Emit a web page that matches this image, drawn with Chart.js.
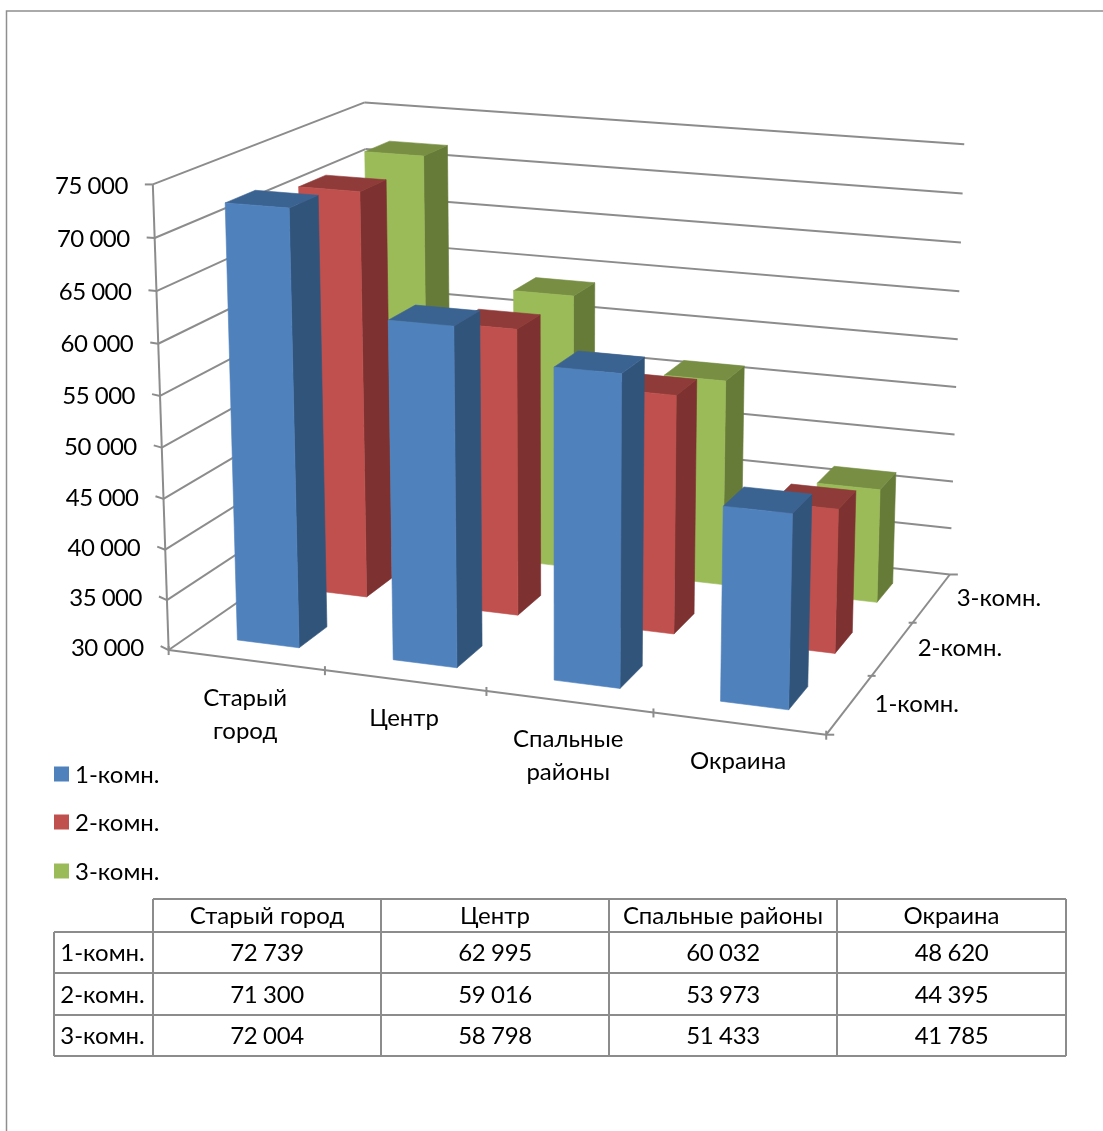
<!DOCTYPE html>
<html lang="ru">
<head>
<meta charset="utf-8">
<title>Цены на квартиры</title>
<script src="https://cdn.jsdelivr.net/npm/chart.js@4/dist/chart.umd.min.js"></script>
<style>
  html, body { margin: 0; padding: 0; background: #fff; }
  canvas { display: block; }
</style>
</head>
<body>
<canvas id="chart" width="1103" height="1131"></canvas>
<script>
// Chart data
const districts = ['Старый город', 'Центр', 'Спальные районы', 'Окраина'];
const districtAxisLines = [['Старый', 'город'], ['Центр'], ['Спальные', 'районы'], ['Окраина']];
const roomTypes = ['1-комн.', '2-комн.', '3-комн.'];
const oneRoom = [72739, 62995, 60032, 48620];
const twoRoom = [71300, 59016, 53973, 44395];
const threeRoom = [72004, 58798, 51433, 41785];
const valueTicks = [30000, 35000, 40000, 45000, 50000, 55000, 60000, 65000, 70000, 75000];
const seriesValues = [oneRoom, twoRoom, threeRoom];

// Face colours of each cuboid
const faceColors = [
  { front: '#4F81BD', side: '#31547B', top: '#3B6391' },
  { front: '#C0504D', side: '#7D3130', top: '#8F3B39' },
  { front: '#9BBB59', side: '#677B38', top: '#778E43' }
];
const LINE = '#8c8c8c';
const FONT = '24px Lato, "Open Sans", sans-serif';
const DEPTH_SHARE = 0.40;   // share of a depth slot taken by a cuboid

// Camera: reference rays of the unit box (u along districts, v into depth, w up) => canvas
const viewAnchors = [
  [0, 0, 0, 169, 652], [1, 0, 0, 826, 733], [1, 1, 0, 948, 575], [0, 1, 0, 373, 515],
  [0, 0, 1, 152, 183], [0, 1, 1, 365, 106], [1, 1, 1, 965, 141], [1, 0, 1, 840, 253],
  [.25, 0, 0, 323, 672], [.5, 0, 0, 484, 693], [.75, 0, 0, 652, 713],
  [1, 1 / 3, 0, 875, 673], [1, 2 / 3, 0, 915, 620],
  [1, 1, 8 / 9, 962, 191], [1, 1, 7 / 9, 961, 240], [1, 1, 6 / 9, 959, 290], [1, 1, 5 / 9, 957, 338],
  [1, 1, 4 / 9, 955, 387], [1, 1, 3 / 9, 954, 435], [1, 1, 2 / 9, 953, 483], [1, 1, 1 / 9, 951, 530],
  [0, 0, 8 / 9, 154, 237], [0, 0, 7 / 9, 156, 290], [0, 0, 6 / 9, 158, 342], [0, 0, 5 / 9, 160, 394],
  [0, 0, 4 / 9, 162, 445], [0, 0, 3 / 9, 164, 497], [0, 0, 2 / 9, 166, 548], [0, 0, 1 / 9, 168, 599]
];

// Least-squares fit of the projective camera
function solveCamera(anchors) {
  const n = 11, A = Array.from({ length: n }, () => new Array(n + 1).fill(0));
  const add = (row, rhs) => {
    for (let i = 0; i < n; i++) {
      for (let j = 0; j < n; j++) A[i][j] += row[i] * row[j];
      A[i][n] += row[i] * rhs;
    }
  };
  anchors.forEach(([u, v, w, x, y]) => {
    add([u, v, w, 1, 0, 0, 0, 0, -x * u, -x * v, -x * w], x);
    add([0, 0, 0, 0, u, v, w, 1, -y * u, -y * v, -y * w], y);
  });
  for (let c = 0; c < n; c++) {
    let p = c;
    for (let r = c + 1; r < n; r++) if (Math.abs(A[r][c]) > Math.abs(A[p][c])) p = r;
    [A[c], A[p]] = [A[p], A[c]];
    for (let r = 0; r < n; r++) {
      if (r === c) continue;
      const f = A[r][c] / A[c][c];
      for (let k = c; k <= n; k++) A[r][k] -= f * A[c][k];
    }
  }
  return A.map((row, i) => row[n] / row[i]);
}
const cam = solveCamera(viewAnchors);
function project(u, v, w) {
  const d = cam[8] * u + cam[9] * v + cam[10] * w + 1;
  return {
    x: (cam[0] * u + cam[1] * v + cam[2] * w + cam[3]) / d,
    y: (cam[4] * u + cam[5] * v + cam[6] * w + cam[7]) / d
  };
}

// Normalised scale positions
const fracX = (s, px) => (px - s.left) / s.width;
const fracY = (s, px) => (s.bottom - px) / s.height;

function segment(ctx, a, b) {
  ctx.beginPath(); ctx.moveTo(a.x, a.y); ctx.lineTo(b.x, b.y); ctx.stroke();
}
function face(ctx, pts, color) {
  ctx.fillStyle = color; ctx.strokeStyle = color; ctx.lineWidth = 0.6; ctx.lineJoin = 'round';
  ctx.beginPath();
  pts.forEach((p, i) => i ? ctx.lineTo(p.x, p.y) : ctx.moveTo(p.x, p.y));
  ctx.closePath(); ctx.fill(); ctx.stroke();
}
const groupThousands = v => String(v).replace(/\B(?=(\d{3})+$)/g, ' ');

// Back wall, side wall, floor edges and tick marks
function drawBox(chart) {
  const { ctx, scales } = chart;
  ctx.save();
  ctx.strokeStyle = LINE; ctx.lineWidth = 2; ctx.lineCap = 'butt';
  scales.y.ticks.forEach(t => {
    const w = fracY(scales.y, scales.y.getPixelForValue(t.value));
    const back = project(0, 1, w);
    const front = project(0, 0, w);
    segment(ctx, front, back);
    segment(ctx, back, project(1, 1, w));
    segment(ctx, front, { x: front.x - 8, y: front.y - 4 * (1 - w) });
  });
  segment(ctx, project(0, 0, 0), project(0, 0, 1));
  segment(ctx, project(0, 0, 0), project(1, 0, 0));
  segment(ctx, project(1, 0, 0), project(1, 1, 0));
  for (let i = 0; i <= districts.length; i++) {
    const p = project(i / districts.length, 0, 0);
    segment(ctx, { x: p.x, y: p.y - 4 }, { x: p.x, y: p.y + 5 });
  }
  for (let i = 0; i <= roomTypes.length; i++) {
    const p = project(1, i / roomTypes.length, 0);
    const outer = i === 0 || i === roomTypes.length;
    segment(ctx, { x: p.x - (outer ? 0 : 4), y: p.y }, { x: p.x + (outer ? 8 : 4), y: p.y });
  }
  ctx.restore();
}

// One cuboid per bar element, placed from the bar's own scale geometry
function drawCuboids(chart) {
  const { ctx, scales } = chart;
  const slot = 1 / roomTypes.length;
  for (let ds = chart.data.datasets.length - 1; ds >= 0; ds--) {
    const colors = faceColors[ds];
    const vc = fracX(scales.z, scales.z.getPixelForValue(ds));
    const v0 = vc - slot * DEPTH_SHARE / 2, v1 = vc + slot * DEPTH_SHARE / 2;
    chart.getDatasetMeta(ds).data.forEach(bar => {
      const { x, y, base, width } = bar.getProps(['x', 'y', 'base', 'width'], true);
      const u0 = fracX(scales.x, x - width / 2), u1 = fracX(scales.x, x + width / 2);
      const w0 = fracY(scales.y, base), w1 = fracY(scales.y, y);
      face(ctx, [project(u1, v0, w0), project(u1, v1, w0), project(u1, v1, w1), project(u1, v0, w1)], colors.side);
      face(ctx, [project(u0, v0, w1), project(u1, v0, w1), project(u1, v1, w1), project(u0, v1, w1)], colors.top);
      face(ctx, [project(u0, v0, w0), project(u1, v0, w0), project(u1, v0, w1), project(u0, v0, w1)], colors.front);
    });
  }
}

function drawAxisText(chart) {
  const { ctx, scales } = chart;
  ctx.save();
  ctx.font = FONT; ctx.fillStyle = '#000'; ctx.textBaseline = 'middle';
  ctx.textAlign = 'right';
  ctx.letterSpacing = '-0.5px';
  scales.y.ticks.forEach(t => {
    const w = fracY(scales.y, scales.y.getPixelForValue(t.value));
    const p = project(0, 0, w);
    ctx.fillText(groupThousands(t.value), p.x - 25, p.y - 4 * (1 - w) + 2);
  });
  ctx.letterSpacing = '0px';
  ctx.textAlign = 'center';
  districtAxisLines.forEach((lines, i) => {
    const p = project(fracX(scales.x, scales.x.getPixelForValue(i)), 0, 0);
    lines.forEach((line, k) => ctx.fillText(line, p.x - 1, p.y + 38 + k * 33));
  });
  ctx.textAlign = 'left';
  roomTypes.forEach((label, i) => {
    const p = project(1, fracX(scales.z, scales.z.getPixelForValue(i)), 0);
    ctx.fillText(label, p.x + 25, p.y);
  });
  ctx.restore();
}

function drawLegend(chart) {
  const { ctx } = chart;
  const rows = [774, 822, 871];
  ctx.save();
  ctx.font = FONT; ctx.textBaseline = 'middle'; ctx.textAlign = 'left';
  chart.data.datasets.forEach((d, i) => {
    ctx.fillStyle = faceColors[i].front;
    ctx.fillRect(54, rows[i] - 7.5, 15, 15);
    ctx.fillStyle = '#000';
    ctx.fillText(d.label, 75, rows[i] + 1);
  });
  ctx.restore();
}

function drawTable(chart) {
  const { ctx } = chart;
  const cols = [54, 153, 381, 609, 837, 1066];
  const rows = [899, 932, 973, 1015, 1056];
  ctx.save();
  ctx.strokeStyle = LINE; ctx.lineWidth = 2;
  rows.forEach((y, i) => segment(ctx, { x: i ? cols[0] : cols[1], y }, { x: cols[5], y }));
  cols.forEach((x, i) => segment(ctx, { x, y: i ? rows[0] : rows[1] }, { x, y: rows[4] }));
  ctx.font = FONT; ctx.fillStyle = '#000'; ctx.textBaseline = 'middle'; ctx.textAlign = 'center';
  const midX = i => (cols[i] + cols[i + 1]) / 2;
  const midY = i => (rows[i] + rows[i + 1]) / 2 + 1;
  districts.forEach((name, c) => ctx.fillText(name, midX(c + 1), midY(0)));
  roomTypes.forEach((name, r) => {
    ctx.fillText(name, midX(0) - 1, midY(r + 1));
    ctx.letterSpacing = '-0.4px';
    seriesValues[r].forEach((v, c) => ctx.fillText(groupThousands(v), midX(c + 1), midY(r + 1)));
    ctx.letterSpacing = '0px';
  });
  ctx.restore();
}

function drawFrame(chart) {
  const { ctx, width, height } = chart;
  ctx.save();
  ctx.strokeStyle = '#8f8f8f'; ctx.lineWidth = 1.5;
  ctx.beginPath(); ctx.moveTo(6.5, height); ctx.lineTo(6.5, 11); ctx.lineTo(width, 11); ctx.stroke();
  ctx.restore();
}

const box3d = {
  id: 'box3d',
  beforeDatasetsDraw(chart) {
    drawFrame(chart);
    drawBox(chart);
    drawCuboids(chart);
    return false; // cuboids replace the flat bars
  },
  afterDraw(chart) {
    drawAxisText(chart);
    drawLegend(chart);
    drawTable(chart);
  }
};

new Chart(document.getElementById('chart'), {
  type: 'bar',
  data: {
    labels: districts,
    datasets: roomTypes.map((label, i) => ({
      label,
      data: seriesValues[i],
      backgroundColor: faceColors[i].front,
      base: valueTicks[0],
      grouped: false,
      barPercentage: 1,
      categoryPercentage: 0.40
    }))
  },
  options: {
    responsive: false,
    animation: false,
    events: [],
    layout: { padding: 0 },
    plugins: { legend: { display: false }, title: { display: false }, tooltip: { enabled: false } },
    scales: {
      x: { type: 'category', display: false, offset: true },
      z: { type: 'category', axis: 'x', labels: roomTypes, display: false, offset: true },
      y: {
        type: 'linear', display: false, min: 30000, max: 75000,
        afterBuildTicks: s => { s.ticks = valueTicks.map(value => ({ value })); }
      }
    }
  },
  plugins: [box3d]
});
</script>
</body>
</html>
